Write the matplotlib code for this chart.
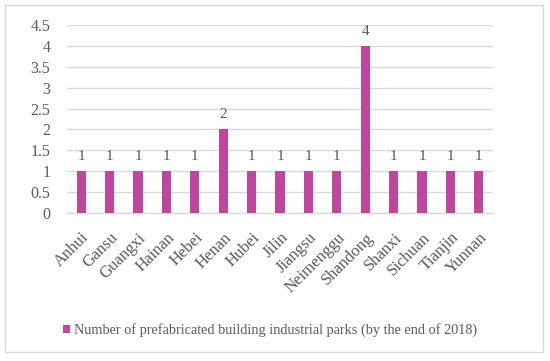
import matplotlib
matplotlib.use("Agg")
import matplotlib.pyplot as plt
from matplotlib.patches import Rectangle
from matplotlib.transforms import ScaledTranslation

provinces = ["Anhui", "Gansu", "Guangxi", "Hainan", "Hebei", "Henan", "Hubei", "Jilin",
             "Jiangsu", "Neimenggu", "Shandong", "Shanxi", "Sichuan", "Tianjin", "Yunnan"]
parks = [1, 1, 1, 1, 1, 2, 1, 1, 1, 1, 4, 1, 1, 1, 1]
series_label = "Number of prefabricated building industrial parks (by the end of 2018)"
yticks = [0, 0.5, 1, 1.5, 2, 2.5, 3, 3.5, 4, 4.5]
ytick_labels = ["0", "0.5", "1", "1.5", "2", "2.5", "3", "3.5", "4", "4.5"]

W, H = 550, 361
plt.rcParams['font.family'] = ['Liberation Serif', 'DejaVu Serif']
txt = '#595959'
bar_color = '#C0459F'
grid_c = '#D9D9D9'

fig = plt.figure(figsize=(5.5, 3.61), dpi=100)
fig.patch.set_facecolor('white')
fig.patches.append(Rectangle((5 / W, 1 - 352 / H), 538 / W, 347 / H, transform=fig.transFigure,
                             fill=False, edgecolor=grid_c, linewidth=1.0))

ax = fig.add_axes([67 / W, 1 - 213 / H, 426 / W, 188 / H])
x = list(range(len(provinces)))
bars = ax.bar(x, parks, width=0.32, color=bar_color, label=series_label, zorder=3)
for xi, v in zip(x, parks):
    ax.text(xi, v + 0.2, str(v), ha='center', va='bottom', fontsize=11, color=txt)

ax.set_xlim(-0.5, len(provinces) - 0.5)
ax.set_ylim(0, 4.5)
ax.set_yticks(yticks)
ax.set_yticklabels(ytick_labels, fontsize=11.5, color=txt)
ax.set_xticks(x)
ax.set_xticklabels(provinces, rotation=45, ha='right', va='top', rotation_mode='anchor',
                   fontsize=12, color=txt)
offset = ScaledTranslation(5 / 100, 0, fig.dpi_scale_trans)
for lbl in ax.get_xticklabels():
    lbl.set_transform(lbl.get_transform() + offset)
ax.tick_params(axis='both', length=0)
ax.tick_params(axis='y', pad=12)
ax.tick_params(axis='x', pad=12)
ax.yaxis.grid(True, color=grid_c, linewidth=1.0, zorder=0)
for s in ['left', 'right', 'top']:
    ax.spines[s].set_visible(False)
ax.spines['bottom'].set_color(grid_c)
ax.spines['bottom'].set_linewidth(1.0)
ax.set_facecolor('none')

leg = fig.legend(handles=[bars], labels=[series_label], loc='center',
                 bbox_to_anchor=(270 / W, 1 - 330 / H), frameon=False, fontsize=10.3,
                 handlelength=0.5, handleheight=0.5, handletextpad=0.25, labelcolor=txt)

fig.savefig('out.png', dpi=100, facecolor='white')
